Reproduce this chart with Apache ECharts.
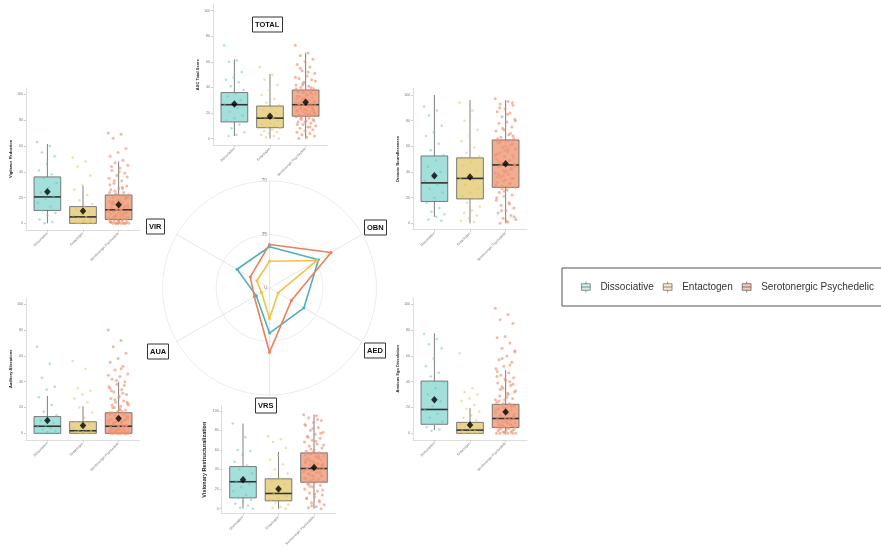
<!DOCTYPE html>
<html>
<head>
<meta charset="utf-8">
<script src="https://cdn.jsdelivr.net/npm/echarts@6/dist/echarts.min.js"></script>
<style>
  html, body { margin: 0; padding: 0; background: #fff; }
  #chart { width: 881px; height: 548px; }
</style>
</head>
<body>
<div id="chart"></div>
<script>
// groups and panels
const groups = ['Dissociative', 'Entactogen', 'Serotonergic Psychedelic'];
const panelKeys = ['TOTAL', 'OBN', 'VIR', 'AUA', 'AED', 'VRS'];
const yNames = ['ASC Total Score', 'Oceanic Boundlessness', 'Vigilance Reduction',
  'Auditory Alterations', 'Anxious Ego Dissolution', 'Visionary Restructuralization'];

// box stats per group: [min, q1, median, q3, max]
const totalBox = [[2, 13, 26.5, 36, 62], [0, 8.5, 16, 25.5, 50.5], [0, 17.5, 26.5, 38, 67]];
const obnBox = [[5, 17, 31.5, 52.5, 100], [0, 19, 35, 51, 96], [0, 28, 45.5, 65, 96]];
const virBox = [[0, 10, 20.5, 36, 61.5], [0, 0, 5, 13, 29], [0, 3, 10.5, 22, 48]];
const auaBox = [[0, 0, 5.5, 13, 29], [0, 0, 2, 9, 21], [0, 0, 5.5, 16, 40]];
const aedBox = [[2.5, 7, 18.5, 40.5, 77.5], [0, 0, 2.5, 8.5, 19.5], [0, 4.5, 11.5, 22.5, 49]];
const vrsBox = [[0, 11, 27.5, 43, 87], [0, 8, 15.5, 30.5, 58], [0, 27, 41, 57, 96]];

// group means (also the radar values)
const totalMean = [27, 17.5, 28.5];
const obnMean = [37, 36, 46.5];
const virMean = [24.5, 9.5, 14.5];
const auaMean = [10, 6, 11.5];
const aedMean = [26, 6.5, 16.5];
const vrsMean = [29.5, 20, 42];

// individual scores (read approximately from the jittered points)
const totalPts = [
  [73, 61, 60, 52, 48, 46, 44, 41, 38, 35, 33, 30, 28, 26, 24, 21, 18, 16, 14, 11, 8, 5, 3, 2],
  [56, 50, 46, 42, 38, 34, 31, 28, 26, 24, 22, 20, 19, 17, 16, 15, 14, 12, 11, 10, 9, 8, 7, 6, 5, 4, 3, 2, 1, 0],
  [73, 67, 65, 62, 60, 58, 56, 53, 51, 49, 47, 46, 44, 42, 41, 40, 39, 38, 37, 36, 36, 35, 34, 33, 32, 32, 31, 30,
   29, 29, 28, 27, 27, 26, 25, 25, 24, 23, 23, 22, 21, 21, 20, 19, 19, 18, 18, 17, 16, 15, 14, 14, 13, 12, 11, 10,
   9, 8, 7, 6, 5, 4, 3, 2, 1, 0, 35, 31, 28, 26, 24, 22, 20, 33, 38, 42, 45, 30, 27, 25, 23, 21, 19, 17, 29, 34,
   37, 40, 43, 48, 52, 55, 15, 13, 11, 9, 31, 26, 22, 28, 24, 36, 39, 18, 16, 20]
];
const obnPts = [
  [91, 88, 84, 76, 71, 68, 62, 57, 53, 49, 44, 40, 36, 33, 30, 27, 24, 20, 16, 12, 9, 7, 5, 3, 2],
  [94, 88, 80, 73, 68, 64, 59, 55, 52, 48, 45, 41, 38, 35, 33, 30, 27, 24, 21, 19, 16, 13, 10, 8, 6, 4, 2, 1],
  [97, 95, 93, 92, 89, 87, 86, 83, 81, 79, 78, 75, 73, 72, 69, 67, 66, 64, 63, 61, 59, 58, 56, 55, 53, 52, 50, 49,
   47, 46, 45, 44, 42, 41, 39, 38, 36, 35, 34, 32, 31, 29, 28, 26, 24, 22, 21, 18, 16, 14, 12, 10, 8, 6, 4, 3, 1, 0,
   62, 57, 54, 49, 47, 44, 41, 38, 35, 33, 30, 28, 45, 51, 60, 66, 70, 74, 80, 85, 90, 94, 25, 20, 15, 10, 5, 2,
   48, 43, 37, 53, 58, 63, 68, 40, 36, 31, 27, 46]
];
const virPts = [
  [63, 60, 55, 52, 46, 41, 38, 35, 31, 28, 24, 21, 19, 16, 13, 10, 8, 6, 3, 1, 0],
  [51, 48, 44, 37, 30, 26, 22, 18, 15, 13, 11, 9, 7, 6, 5, 4, 3, 2, 1, 0, 0, 0, 1, 0, 2],
  [70, 69, 66, 58, 55, 52, 49, 47, 45, 43, 41, 39, 37, 35, 33, 31, 29, 27, 26, 24, 23, 22, 21, 20, 19, 18, 17, 16,
   15, 14, 13, 12, 12, 11, 10, 10, 9, 8, 8, 7, 6, 6, 5, 5, 4, 4, 3, 3, 2, 2, 1, 1, 1, 0, 0, 0, 0, 0, 0, 0,
   30, 27, 25, 20, 18, 15, 13, 11, 9, 7, 5, 3, 2, 1, 0, 0, 12, 14, 16, 19, 22, 24, 28, 33, 36, 40, 44, 8, 6, 4,
   10, 17, 21, 0, 1, 3, 5, 9, 11, 15]
];
const auaPts = [
  [67, 54, 43, 36, 34, 28, 22, 17, 14, 12, 10, 8, 6, 5, 4, 3, 2, 1, 0, 0, 0],
  [56, 50, 35, 33, 30, 27, 24, 20, 16, 12, 9, 7, 5, 4, 3, 2, 2, 1, 1, 0, 0, 0, 0],
  [80, 72, 67, 62, 58, 55, 52, 49, 46, 44, 42, 40, 38, 36, 34, 32, 30, 28, 27, 25, 24, 22, 21, 20, 18, 17, 16, 15,
   14, 13, 12, 11, 10, 9, 8, 8, 7, 6, 6, 5, 5, 4, 4, 3, 3, 2, 2, 1, 1, 1, 0, 0, 0, 0, 0, 0, 0, 0, 0, 0,
   35, 31, 26, 23, 19, 16, 14, 12, 10, 9, 7, 6, 5, 4, 3, 2, 1, 0, 0, 0, 13, 15, 17, 20, 24, 29, 33, 37, 41, 45,
   50, 8, 11, 3, 2, 6, 9, 12, 18, 22]
];
const aedPts = [
  [77, 73, 69, 66, 58, 52, 47, 44, 40, 35, 30, 25, 21, 18, 15, 12, 9, 7, 5, 3, 2],
  [62, 35, 32, 30, 27, 25, 22, 19, 17, 14, 12, 10, 8, 7, 6, 5, 4, 3, 2, 2, 1, 1, 0, 0, 0],
  [97, 92, 88, 85, 75, 74, 70, 66, 63, 60, 57, 55, 52, 50, 47, 45, 43, 41, 39, 37, 35, 33, 31, 29, 27, 26, 24, 23,
   22, 21, 20, 19, 18, 17, 16, 15, 14, 13, 12, 11, 10, 9, 8, 8, 7, 6, 5, 5, 4, 4, 3, 2, 2, 1, 1, 0, 0, 0, 0, 0,
   44, 40, 36, 32, 28, 25, 22, 20, 18, 16, 14, 12, 10, 9, 7, 6, 5, 4, 3, 2, 1, 0, 11, 13, 15, 17, 19, 21, 23, 26,
   30, 34, 38, 42, 48, 53, 58, 64, 8, 5]
];
const vrsPts = [
  [87, 73, 60, 59, 55, 48, 44, 40, 36, 32, 28, 25, 22, 18, 14, 11, 9, 7, 5, 3, 1, 0],
  [74, 71, 68, 62, 55, 50, 45, 40, 36, 31, 28, 25, 22, 19, 17, 15, 13, 11, 9, 8, 6, 4, 2, 1, 0],
  [96, 95, 93, 90, 88, 85, 83, 80, 78, 76, 74, 72, 70, 68, 66, 64, 62, 60, 59, 57, 56, 54, 53, 51, 50, 48, 47, 46,
   45, 44, 42, 41, 40, 39, 38, 37, 35, 34, 33, 31, 30, 29, 28, 27, 25, 24, 22, 20, 18, 16, 14, 12, 10, 8, 6, 4, 2, 1, 0,
   58, 55, 52, 49, 46, 43, 40, 37, 34, 31, 28, 26, 44, 47, 50, 54, 61, 65, 69, 73, 77, 82, 86, 91, 23, 19, 15, 11,
   7, 3, 39, 42, 36, 33, 30, 48, 52, 56, 41, 45]
];

const radarTicks = [0, 35, 70];

const boxes = [totalBox, obnBox, virBox, auaBox, aedBox, vrsBox];
const means = [totalMean, obnMean, virMean, auaMean, aedMean, vrsMean];
const points = [totalPts, obnPts, virPts, auaPts, aedPts, vrsPts];

// colours
const boxFill = ['#a3dfdb', '#e9d590', '#f1ad92'];
const ptColor = ['#6cc6c0', '#e0c466', '#ec9373'];
const lineColor = ['#4eb0bb', '#efc24a', '#ec8058'];

// panel placement (px)
const layout = [
  { left: 213, top: 4.3, width: 114, height: 140.7 },
  { left: 413, top: 88.6, width: 114, height: 141.1 },
  { left: 26, top: 87.9, width: 114, height: 141.9 },
  { left: 26, top: 297.8, width: 114, height: 142 },
  { left: 413, top: 297.8, width: 114, height: 142 },
  { left: 221.7, top: 405.9, width: 113.6, height: 141.5 }
];
const labelPos = [[252, 17], [364, 220], [146, 219], [147, 344], [364, 343], [255, 398]];

const FONT = '"Liberation Sans", Arial, Helvetica, sans-serif';
const jit = k => (((k * 0.618034) % 1) - 0.5) * 0.58;

function renderBox(params, api) {
  const i = api.value(0);
  const lo = api.coord([i, api.value(1)]);
  const q1 = api.coord([i, api.value(2)]);
  const md = api.coord([i, api.value(3)]);
  const q3 = api.coord([i, api.value(4)]);
  const hi = api.coord([i, api.value(5)]);
  const w = api.size([0.75, 0])[0];
  const x = lo[0];
  const wl = { stroke: '#5e5e5e', lineWidth: 0.8 };
  return {
    type: 'group',
    children: [
      { type: 'line', shape: { x1: x, y1: hi[1], x2: x, y2: lo[1] }, style: wl },
      { type: 'rect', shape: { x: x - w / 2, y: q3[1], width: w, height: q1[1] - q3[1] },
        style: { fill: boxFill[i], stroke: '#5e5e5e', lineWidth: 0.8 } },
      { type: 'line', shape: { x1: x - w / 2, y1: md[1], x2: x + w / 2, y2: md[1] },
        style: { stroke: '#333', lineWidth: 1.6 } }
    ]
  };
}

const grid = [], xAxis = [], yAxis = [], series = [], title = [];

panelKeys.forEach((key, p) => {
  grid.push(layout[p]);
  xAxis.push({
    type: 'value', gridIndex: p, min: -0.6, max: 2.6,
    axisLine: { show: true, onZero: false, lineStyle: { color: '#d4d4d4', width: 0.8 } },
    axisTick: { show: true, length: 2, customValues: [0, 1, 2], lineStyle: { color: '#ccc' } },
    axisLabel: { customValues: [0, 1, 2], formatter: v => groups[v], rotate: 45, fontSize: 3.5,
      color: '#777', margin: 3, fontFamily: FONT },
    splitLine: { show: false }
  });
  yAxis.push({
    type: 'value', gridIndex: p, min: -5, max: 105,
    name: yNames[p], nameLocation: 'middle', nameRotate: 90, nameGap: p === 5 ? 14 : 11,
    nameTextStyle: { fontSize: p === 5 ? 5.5 : 4, fontWeight: 'bold', color: '#222', fontFamily: FONT },
    axisLine: { show: true, onZero: false, lineStyle: { color: '#d4d4d4', width: 0.8 } },
    axisTick: { show: true, length: 2, customValues: [0, 20, 40, 60, 80, 100], lineStyle: { color: '#ccc' } },
    axisLabel: { customValues: [0, 20, 40, 60, 80, 100], fontSize: 3.5, color: '#777', margin: 3, fontFamily: FONT },
    splitLine: { show: false }
  });

  series.push({
    type: 'custom', xAxisIndex: p, yAxisIndex: p, z: 2,
    renderItem: renderBox,
    encode: { x: 0, y: [1, 2, 3, 4, 5] },
    data: boxes[p].map((b, g) => [g].concat(b))
  });

  groups.forEach((g, gi) => {
    series.push({
      name: g, type: 'scatter', xAxisIndex: p, yAxisIndex: p, z: 3,
      symbolSize: gi === 2 ? 3 : 2.5,
      itemStyle: { color: ptColor[gi], opacity: gi === 2 ? 0.65 : 0.55 },
      data: points[p][gi].map((v, k) => [gi + jit(k), v])
    });
  });

  series.push({
    type: 'scatter', xAxisIndex: p, yAxisIndex: p, z: 4,
    symbol: 'diamond', symbolSize: [6.5, 7.5],
    itemStyle: { color: '#000' },
    data: means[p].map((m, g) => [g, m])
  });

  title.push({
    text: key, left: labelPos[p][0], top: labelPos[p][1],
    borderColor: '#333', borderWidth: 1, padding: [3.5, 3],
    textStyle: { fontSize: 7.5, fontWeight: 'bold', color: '#111', fontFamily: FONT }
  });
});

// radar of group means: indicators run counter-clockwise from the top
const radarOrder = [0, 2, 3, 5, 4, 1];
series.push({
  type: 'radar', z: 5,
  symbol: 'circle', symbolSize: 3,
  data: groups.map((g, gi) => ({
    name: g,
    value: radarOrder.map(p => means[p][gi]),
    lineStyle: { color: lineColor[gi], width: 1.6 },
    itemStyle: { color: lineColor[gi] }
  }))
});

const boxIcon = 'path://M1,2 L9,2 L9,8 L1,8 Z M1,5 L9,5 M5,0 L5,2 M5,8 L5,10';

const option = {
  animation: false,
  textStyle: { fontFamily: FONT },
  title: title,
  grid: grid,
  xAxis: xAxis,
  yAxis: yAxis,
  radar: {
    center: [269.5, 288], radius: 107, startAngle: 90, shape: 'circle', splitNumber: 2,
    indicator: radarOrder.map(p => ({ name: panelKeys[p], min: 0, max: 70 })),
    axisName: { show: false },
    splitLine: { lineStyle: { color: '#ebebeb', width: 1 } },
    splitArea: { show: false },
    axisLine: { lineStyle: { color: '#e6e6e6', width: 1 } },
    axisTick: { show: false },
    axisLabel: { show: false }
  },
  legend: {
    left: 562, top: 268, width: 300, orient: 'horizontal',
    borderColor: '#555', borderWidth: 1, padding: [13, 12, 13, 19],
    itemGap: 9, itemWidth: 11, itemHeight: 11,
    textStyle: { fontSize: 10, color: '#333', padding: [0, 0, 0, 4], fontFamily: FONT },
    data: groups.map((g, gi) => ({
      name: g, icon: boxIcon,
      itemStyle: { color: boxFill[gi], borderColor: '#444', borderWidth: 1 }
    }))
  },
  graphic: radarTicks.map(t => ({
    type: 'text', x: 267, y: 288 - t / 70 * 107,
    style: { text: String(t), fontSize: 5, fill: '#777', align: 'right', verticalAlign: 'middle', fontFamily: FONT }
  })),
  series: series
};

const chart = echarts.init(document.getElementById('chart'), null, { renderer: 'canvas' });
chart.setOption(option);
</script>
</body>
</html>
